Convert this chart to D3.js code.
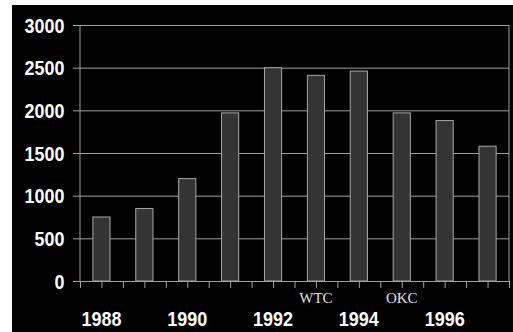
<!DOCTYPE html>
<html><head><meta charset="utf-8">
<script src="https://cdn.jsdelivr.net/npm/d3@7"></script>
<style>body{margin:0;background:#fff}svg{display:block}</style>
</head><body>
<script>
const years = [1988,1989,1990,1991,1992,1993,1994,1995,1996,1997];
const values = [750,850,1200,1970,2500,2410,2460,1970,1880,1580];
const yTicks = [0,500,1000,1500,2000,2500,3000];
const yearLabels = [1988,1990,1992,1994,1996];
const annotations = [{year:1993,text:"WTC"},{year:1995,text:"OKC"}];

const W=513,H=332;
const m={left:80,right:4,top:25,bottom:51};
const svg=d3.select("body").append("svg").attr("width",W).attr("height",H);
svg.append("rect").attr("width",W).attr("height",H).attr("fill","#fff");
svg.append("rect").attr("x",12).attr("y",5).attr("width",W-12).attr("height",H-5).attr("fill","#000");

const x=d3.scaleBand().domain(years).range([m.left,W-m.right]).paddingInner(0.6).paddingOuter(0.3);
const y=d3.scaleLinear().domain([0,3000]).range([H-m.bottom,m.top]);
const xs=d3.scaleLinear().domain([0,years.length*2]).range([m.left,W-m.right]);

const grid="#a0a0a0";
const ya=svg.append("g").attr("transform",`translate(${m.left},0)`)
  .call(d3.axisLeft(y).tickValues(yTicks).tickSize(7).tickFormat(d3.format("d")));
ya.select(".domain").remove();
ya.selectAll(".tick line").attr("stroke",grid).attr("x2",W-m.right-m.left).attr("x1",-7);
ya.selectAll(".tick text").attr("fill","#fff").attr("x",-17).attr("dy","0.36em")
  .style("font-family","'Liberation Sans',Arial,sans-serif").style("font-weight","bold")
  .style("font-size","19.5px").attr("transform","scale(0.92,1)").attr("text-anchor","end");

svg.append("line").attr("x1",m.left).attr("x2",m.left).attr("y1",m.top).attr("y2",y(0)).attr("stroke",grid);
svg.append("line").attr("x1",W-m.right).attr("x2",W-m.right).attr("y1",m.top).attr("y2",y(0)).attr("stroke",grid);

svg.append("g").selectAll("rect").data(years).join("rect")
  .attr("x",(d)=>x(d)).attr("width",x.bandwidth())
  .attr("y",(d,i)=>y(values[i])).attr("height",(d,i)=>y(0)-y(values[i]))
  .attr("fill","#343434").attr("stroke","#a8a8a8").attr("stroke-width",1);

const xt=svg.append("g").attr("transform",`translate(0,${y(0)})`)
  .call(d3.axisBottom(xs).tickValues(d3.range(0,21)).tickSize(7).tickFormat(""));
xt.select(".domain").attr("stroke",grid);
xt.selectAll(".tick line").attr("stroke",grid);

const xl=svg.append("g").attr("transform",`translate(0,${y(0)})`)
  .call(d3.axisBottom(x).tickValues(yearLabels).tickSize(0));
xl.select(".domain").remove();
xl.selectAll(".tick text").attr("fill","#fff").attr("y",45.5).attr("dy",0)
  .style("font-family","'Liberation Sans',Arial,sans-serif").style("font-weight","bold")
  .style("font-size","20px").attr("transform","scale(0.9,1)")
  .attr("x",0);
xl.selectAll(".tick").each(function(d){
  const cx=x(d)+x.bandwidth()/2;
  d3.select(this).attr("transform",`translate(${cx},0)`);
});

svg.append("g").selectAll("text").data(annotations).join("text")
  .attr("x",d=>x(d.year)+x.bandwidth()/2).attr("y",y(0)+21.5)
  .attr("text-anchor","middle").attr("fill","#e0e0e0")
  .style("font-family","'Liberation Serif','Times New Roman',serif").style("font-size","15px")
  .text(d=>d.text);
</script>
</body></html>
